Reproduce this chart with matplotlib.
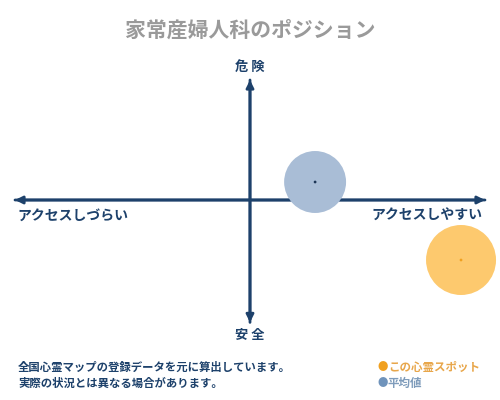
import matplotlib
matplotlib.use("Agg")
import matplotlib.pyplot as plt

plt.rcParams['font.family'] = ['Noto Sans CJK JP', 'DejaVu Sans']

title = "家常産婦人科のポジション"
x_labels = ["アクセスしづらい", "アクセスしやすい"]
y_labels = ["安 全", "危 険"]
series_names = ["この心霊スポット", "平均値"]
series_x = [8.98, 2.77]
series_y = [-5.0, 1.5]
notes = ["全国心霊マップの登録データを元に算出しています。", "実際の状況とは異なる場合があります。"]

navy = "#1d416b"
fill_colors = ["#fdc96e", "#a9bdd6"]
dot_colors = ["#f0a020", "#1d3556"]
legend_text_colors = ["#e8a64a", "#7f9cbb"]

fig = plt.figure(figsize=(5, 4), dpi=100)
ax = fig.add_axes([0, 0, 1, 1])
ax.set_xlim(-250 / 23.5, 250 / 23.5)
ax.set_ylim(-200 / 12, 200 / 12)
ax.axis("off")

# axes arrows
ax.annotate("", xy=(-10.0, 0), xytext=(10.0, 0),
            arrowprops=dict(arrowstyle="-|>", color=navy, lw=2, mutation_scale=11, shrinkA=0, shrinkB=0))
ax.annotate("", xy=(10.0, 0), xytext=(-10.0, 0),
            arrowprops=dict(arrowstyle="-|>", color=navy, lw=2, mutation_scale=11, shrinkA=0, shrinkB=0))
ax.annotate("", xy=(0, 10.0), xytext=(0, -10.2),
            arrowprops=dict(arrowstyle="-|>", color=navy, lw=2, mutation_scale=11, shrinkA=0, shrinkB=0))
ax.annotate("", xy=(0, -10.2), xytext=(0, 10.0),
            arrowprops=dict(arrowstyle="-|>", color=navy, lw=2, mutation_scale=11, shrinkA=0, shrinkB=0))

sizes = [2540, 1990]
for i in range(len(series_x)):
    ax.scatter(series_x[i], series_y[i], s=sizes[i], color=fill_colors[i], edgecolors="none", zorder=3)
    ax.scatter(series_x[i], series_y[i], s=4, color=dot_colors[i], edgecolors="none", zorder=4)

# texts (figure pixel coords)
def px(x, y):
    return (x / 500, 1 - y / 400)

fig.text(*px(250, 30), title, ha="center", va="center", fontsize=15, color="#9a9a9a", fontweight="bold")
fig.text(*px(250, 67), y_labels[1], ha="center", va="center", fontsize=9.5, color=navy, fontweight="bold")
fig.text(*px(250, 335), y_labels[0], ha="center", va="center", fontsize=9.5, color=navy, fontweight="bold")
fig.text(*px(17, 216), x_labels[0], ha="left", va="center", fontsize=10, color=navy, fontweight="bold")
fig.text(*px(482, 216), x_labels[1], ha="right", va="center", fontsize=10, color=navy, fontweight="bold")

fig.text(*px(18, 367), notes[0], ha="left", va="center", fontsize=8.2, color=navy, fontweight="bold")
fig.text(*px(18, 383), notes[1], ha="left", va="center", fontsize=8.2, color=navy, fontweight="bold")

legend_y = [367, 383]
for i in range(2):
    fig.text(*px(377, legend_y[i]), "●", ha="left", va="center", fontsize=7.5, color=dot_colors[0] if i == 0 else "#6f93bb")
    fig.text(*px(388, legend_y[i]), series_names[i], ha="left", va="center", fontsize=8.3, color=legend_text_colors[i], fontweight="bold")

fig.savefig("out.png", dpi=100, facecolor="white")
